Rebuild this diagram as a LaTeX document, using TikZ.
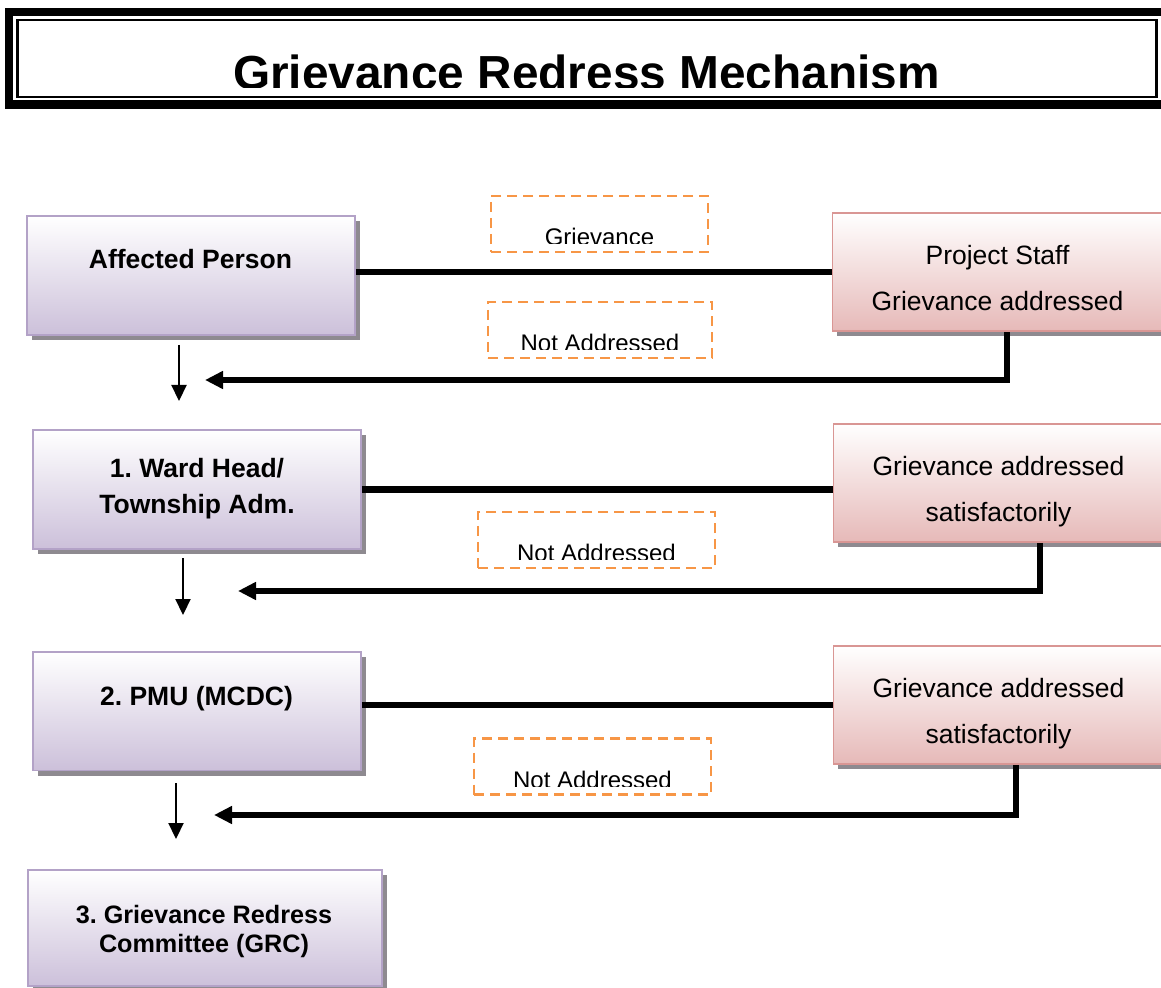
\documentclass[tikz,border=0pt]{standalone}
\usepackage{fontspec}
\setmainfont{Liberation Sans}
\usepackage{xcolor}
\usepackage{tikz}
\usetikzlibrary{arrows.meta,shadows}
\definecolor{grLilac}{HTML}{CCC0DA}
\definecolor{grLilacEdge}{HTML}{B3A2C7}
\definecolor{grRose}{HTML}{E6B9B8}
\definecolor{grRoseEdge}{HTML}{D99694}
\definecolor{grShadow}{HTML}{8E8A90}
\definecolor{grOrange}{HTML}{F79646}
\frenchspacing
\tikzset{
  gr diagram/.style={line cap=butt, line join=miter},
  gr box/.style={line width=0.9pt, minimum height=59.25pt, inner sep=0pt,
    drop shadow={shadow xshift=2.25pt, shadow yshift=-2.5pt, fill=grShadow, opacity=1}},
  gr left/.style={gr box, draw=grLilacEdge, top color=white, bottom color=grLilac,
    minimum width=164pt},
  gr right/.style={gr box, draw=grRoseEdge, top color=white, bottom color=grRose,
    minimum width=165pt},
  gr bold/.style={font=\bfseries\fontsize{13.25}{18}\selectfont, align=center, inner sep=0pt},
  gr plain/.style={font=\fontsize{13.25}{23}\selectfont, align=center, inner sep=0pt},
  gr title/.style={font=\bfseries\fontsize{23.9}{28}\selectfont, inner sep=0pt, anchor=base},
  gr note/.style={draw=grOrange, line width=1.2pt, dash pattern=on 5pt off 3pt,
    minimum height=28pt, inner sep=0pt},
  gr note text/.style={font=\fontsize{12}{14}\selectfont, anchor=base, inner sep=0pt},
  gr link/.style={line width=3.2pt},
  gr back/.style={line width=2.9pt, -{Triangle[length=9pt,width=8.5pt]}},
  gr down/.style={line width=1.1pt, -{Triangle[length=8pt,width=7.5pt]}}
}

\begin{document}
\begin{tikzpicture}[gr diagram,x=0.5pt,y=-0.5pt]
\useasboundingbox (0,0) rectangle (1161,988);
\draw[line width=4.25pt] (9,12.25) rectangle (1180,104.5);
\draw[line width=1.3pt] (17.5,20) rectangle (1156.5,97);
\begin{scope}
  \clip (0,0) rectangle (1161,88);
  \node[gr title] (title) at (586.5,90) {Grievance Redress Mechanism};
\end{scope}

\node[gr left] (ap) at (191,275.5) {};
\node[gr right] (ps) at (997.5,272) {};
\node[gr left] (wh) at (197,489.5) {};
\node[gr right] (gs1) at (998.5,483) {};
\node[gr left] (pmu) at (197,711.3) {};
\node[gr right] (gs2) at (998.5,705) {};
\node[gr left,minimum width=177pt,minimum height=58pt] (grc) at (205,928) {};

\node[gr bold,anchor=base] (apT) at (190.5,269) {Affected Person};
\node[gr bold] (whT) at (197,489) {1. Ward Head/\\Township Adm.};
\node[gr bold,anchor=base] (pmuT) at (196.5,705) {2. PMU (MCDC)};
\node[gr bold,font=\bfseries\fontsize{12.6}{14.5}\selectfont] (grcT) at (204,931)
  {3. Grievance Redress\\Committee (GRC)};
\node[gr plain] (psT) at (997.5,278.3) {Project Staff\\Grievance addressed};
\node[gr plain] (gs1T) at (998.5,491.6) {Grievance addressed\\satisfactorily};
\node[gr plain] (gs2T) at (998.5,713.6) {Grievance addressed\\satisfactorily};

\draw[gr link] (ap.east |- ps.west) -- (ps.west);
\draw[gr link] (wh.east) -- (wh.east -| gs1.west);
\draw[gr link] (pmu.east |- gs2.west) -- (gs2.west);

\coordinate (bend1) at (1007,380);
\coordinate (tip1) at (205,380);
\coordinate (bend2) at (1040,591);
\coordinate (tip2) at (238,591);
\coordinate (bend3) at (1016,815);
\coordinate (tip3) at (214,815);
\draw[gr back] (bend1 |- ps.south) -- (bend1) -- (tip1);
\draw[gr back] (bend2 |- gs1.south) -- (bend2) -- (tip2);
\draw[gr back] (bend3 |- gs2.south) -- (bend3) -- (tip3);

\coordinate (down1) at (179,345);
\coordinate (down1end) at (179,401);
\coordinate (down2) at (183,558);
\coordinate (down2end) at (183,615);
\coordinate (down3) at (176,783);
\coordinate (down3end) at (176,839);
\foreach \k in {1,2,3}
  \draw[gr down] (down\k) -- (down\k end);

\foreach \nm/\px/\py/\nw/\txt in {n0/599.5/224/108.5/Grievance,
    n1/600/330/112/Not Addressed, n2/596.5/540/118.5/Not Addressed,
    n3/592.5/766.5/118.5/Not Addressed}{
  \node[gr note,minimum width=\nw pt] (\nm) at (\px,\py) {};
  \begin{scope}
    \clip (\nm.north west) rectangle ([yshift=4.75pt]\nm.south east);
    \node[gr note text] (\nm-t) at ([yshift=3.75pt]\nm.south) {\txt};
  \end{scope}
}
\end{tikzpicture}
\end{document}
